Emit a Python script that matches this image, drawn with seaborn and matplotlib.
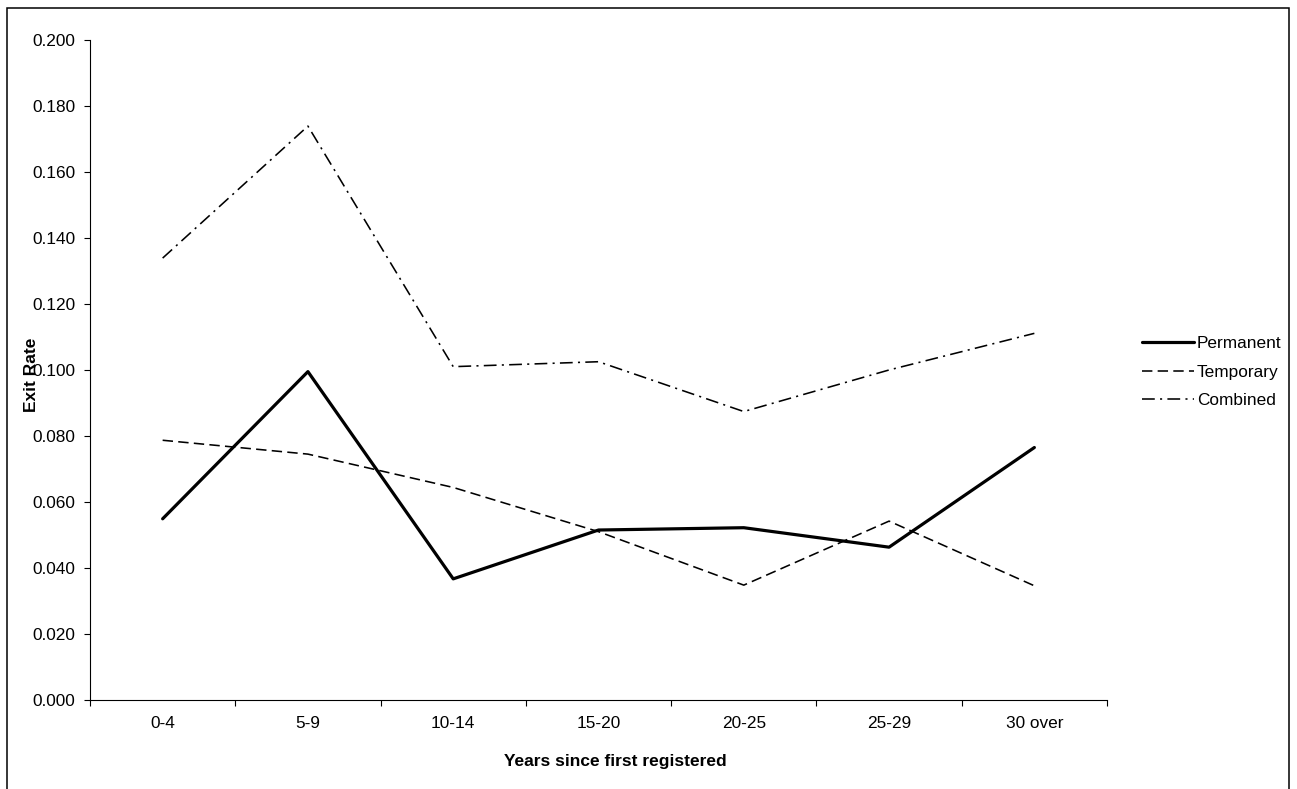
import matplotlib
matplotlib.use("Agg")
import matplotlib.pyplot as plt
from matplotlib.patches import Rectangle
from matplotlib.ticker import FixedLocator, NullFormatter, FormatStrFormatter
import seaborn as sns
import pandas as pd
import numpy as np

categories = ["0-4", "5-9", "10-14", "15-20", "20-25", "25-29", "30 over"]
permanent = [0.055, 0.0996, 0.0368, 0.0516, 0.0523, 0.0464, 0.0766]
temporary = [0.0788, 0.0746, 0.0645, 0.0511, 0.0349, 0.0543, 0.0347]
combined = [0.134, 0.174, 0.1011, 0.1026, 0.0875, 0.1001, 0.1112]
series_names = ["Permanent", "Temporary", "Combined"]
y_ticks = [0.000, 0.020, 0.040, 0.060, 0.080, 0.100, 0.120, 0.140, 0.160, 0.180, 0.200]

rows = []
for name, vals in zip(series_names, [permanent, temporary, combined]):
    for i, (c, v) in enumerate(zip(categories, vals)):
        rows.append({"pos": i, "Category": c, "Series": name, "Exit Rate": v})
df = pd.DataFrame(rows)

sns.set_theme(style="white")
plt.rcParams["font.family"] = ["Liberation Sans", "DejaVu Sans"]

W, H = 1297, 789
fig = plt.figure(figsize=(W / 100, H / 100), dpi=100)
ax = fig.add_axes([90 / W, 1 - 700.3 / H, (1107 - 90) / W, 660 / H])

palette = {n: "black" for n in series_names}
dashes = {"Permanent": "", "Temporary": (6.5, 3.3), "Combined": (8.0, 3.3, 1.3, 3.3)}
sizes = {"Permanent": 2.3, "Temporary": 1.15, "Combined": 1.15}

sns.lineplot(data=df, x="pos", y="Exit Rate", hue="Series", style="Series",
             size="Series", hue_order=series_names, style_order=series_names,
             size_order=series_names, palette=palette, dashes=dashes,
             sizes=sizes, legend=False, ax=ax, estimator=None, sort=False)

ax.set_xlim(-0.5, len(categories) - 0.5)
ax.set_ylim(0, 0.2)
ax.xaxis.set_major_locator(FixedLocator(np.arange(-0.5, len(categories), 1.0)))
ax.xaxis.set_major_formatter(NullFormatter())
ax.set_xticks(np.arange(len(categories)), minor=True)
ax.set_xticklabels(categories, minor=True)
ax.set_yticks(y_ticks)
ax.yaxis.set_major_formatter(FormatStrFormatter("%.3f"))

ax.tick_params(axis="x", which="major", direction="out", length=4.5, width=0.8,
               color="black", bottom=True)
ax.tick_params(axis="x", which="minor", length=0, pad=11.5, labelsize=12.4,
               labelcolor="black", bottom=True)
ax.tick_params(axis="y", which="major", direction="out", length=4.5, width=0.8,
               color="black", pad=6.2, labelsize=12.4, labelcolor="black", left=True)

for s in ["top", "right"]:
    ax.spines[s].set_visible(False)
for s in ["left", "bottom"]:
    ax.spines[s].set_color("black")
    ax.spines[s].set_linewidth(0.8)

ax.set_xlabel("")
ax.set_ylabel("")
fig.text(615.5 / W, 1 - 761.7 / H, "Years since first registered", ha="center",
         va="center", fontsize=12.5, fontweight="bold", color="black")
fig.text(32 / W, 1 - 374.5 / H, "Exit Rate", ha="center", va="center",
         rotation=90, fontsize=12.5, fontweight="bold", color="black")

handles = ax.lines[:3]
leg = fig.legend(handles, series_names, loc="center left",
                 bbox_to_anchor=(1142 / W, 1 - 372 / H), frameon=False,
                 fontsize=12.4, handlelength=3.0, handletextpad=0.2,
                 borderpad=0, borderaxespad=0, labelspacing=0.78)
for t in leg.get_texts():
    t.set_color("black")

fig.patches.append(Rectangle((7 / W, -0.05), (1289 - 7) / W, 1 - 8 / H + 0.05,
                             transform=fig.transFigure, fill=False,
                             edgecolor="black", linewidth=1.1))

fig.savefig("out.png", dpi=100, facecolor="white")
